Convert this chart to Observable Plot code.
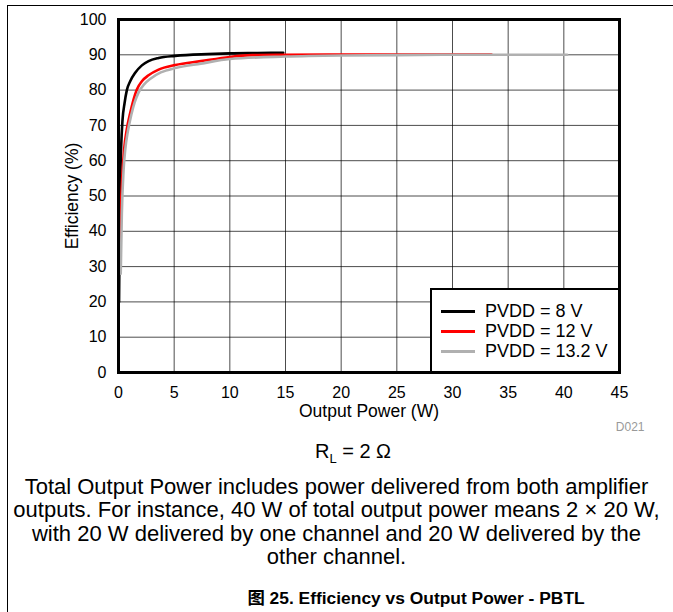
<!DOCTYPE html>
<html>
<head>
<meta charset="utf-8">
<script src="https://cdn.jsdelivr.net/npm/d3@7"></script>
<script src="https://cdn.jsdelivr.net/npm/@observablehq/plot@0.6"></script>
<style>
  body { margin: 0; background: #fff; font-family: "Liberation Sans", Arial, "Noto Sans CJK SC", sans-serif; color: #000; }
  #wrap { position: relative; width: 673px; height: 612px; overflow: hidden; background: #fff; }
  #frameTop { position: absolute; left: 7px; top: 5px; width: 670px; height: 0; border-top: 1px solid #000; }
  #frameLeft { position: absolute; left: 7px; top: 5px; width: 0; height: 620px; border-left: 1px solid #000; }
  #chart { position: absolute; left: 0; top: 0; }
  #legend { position: absolute; left: 430px; top: 288px; width: 190px; height: 85px; box-sizing: border-box;
            border: 2px solid #000; background: #fff; padding-top: 12px; }
  .row { display: flex; align-items: center; height: 19.7px; font-size: 18px; white-space: nowrap; }
  .swatch { width: 34px; height: 0; border-top: 3px solid #000; margin-left: 9px; margin-right: 10px; }
  .block { position: absolute; text-align: center; white-space: nowrap; }
  #rl { top: 439px; left: 253px; width: 200px; font-size: 20px; line-height: 24px; }
  #rl sub { font-size: 13px; vertical-align: -5px; line-height: 0; }
  #note { top: 475px; left: 0; width: 673px; font-size: 22px; line-height: 23.3px; }
  #caption { top: 587px; left: 216px; width: 400px; font-size: 17.4px; line-height: 22px; font-weight: bold; }
</style>
</head>
<body>
<div id="wrap">
  <div id="frameTop"></div>
  <div id="frameLeft"></div>
  <div id="chart"></div>
  <div id="legend"></div>
  <div id="rl" class="block">R<sub>L</sub> = 2 Ω</div>
  <div id="note" class="block">Total Output Power includes power delivered from both amplifier<br>outputs. For instance, 40 W of total output power means 2 × 20 W,<br>with 20 W delivered by one channel and 20 W delivered by the<br>other channel.</div>
  <div id="caption" class="block">图 25. Efficiency vs Output Power - PBTL</div>
</div>
<script>
// ---- data ----
const seriesNames = ["PVDD = 8 V", "PVDD = 12 V", "PVDD = 13.2 V"];
const seriesColors = ["#000000", "#ff0000", "#b0b0b0"];

const pvdd8Power = [0.05, 0.1, 0.15, 0.24, 0.36, 0.54, 0.75, 1.05, 1.5, 2.1, 2.7, 3.6, 5.1, 8, 10, 12.5, 14.8];
const pvdd8Eff   = [20, 40, 53, 64, 71.5, 76.2, 80, 82.5, 84.9, 87, 88.2, 89.1, 89.7, 90.2, 90.4, 90.5, 90.6];

const pvdd12Power = [0.12, 0.2, 0.35, 0.5, 0.75, 1.05, 1.35, 1.65, 2.1, 2.7, 3.6, 5.1, 7.4, 10, 12, 15, 20, 25, 30, 33.5];
const pvdd12Eff   = [35, 45, 56, 63, 69, 73.5, 77.3, 80.2, 82.5, 84.2, 85.8, 87.1, 88.2, 89.4, 89.9, 90, 90.1, 90.1, 90.1, 90.1];

const pvdd132Power = [0.2, 0.3, 0.45, 0.6, 0.85, 1.15, 1.45, 1.8, 2.3, 2.9, 3.8, 5.2, 7.4, 10, 15, 20, 25, 30, 35, 40.3];
const pvdd132Eff   = [28, 45, 57, 63, 68.5, 73, 76.5, 79.3, 81.6, 83.3, 85, 86.3, 87.5, 88.8, 89.5, 89.8, 89.9, 90, 90, 90];

const xTicks = [0, 5, 10, 15, 20, 25, 30, 35, 40, 45];
const yTicks = [0, 10, 20, 30, 40, 50, 60, 70, 80, 90, 100];
const xLabel = "Output Power (W)";
const yLabel = "Efficiency (%)";
const figId = "D021";

// ---- build table ----
const seriesData = [[pvdd8Power, pvdd8Eff], [pvdd12Power, pvdd12Eff], [pvdd132Power, pvdd132Eff]];
const rows = [];
seriesData.forEach(([xs, ys], i) => xs.forEach((x, j) => rows.push({series: seriesNames[i], x, y: ys[j]})));

const font = "Liberation Sans, Arial, sans-serif";
const chart = Plot.plot({
  width: 673,
  height: 440,
  marginLeft: 118,
  marginRight: 54,
  marginTop: 19,
  marginBottom: 68,
  style: {fontFamily: font, fontSize: "16px", color: "#000", background: "transparent", overflow: "visible"},
  x: {domain: [0, 45]},
  y: {domain: [0, 100]},
  color: {domain: seriesNames, range: seriesColors},
  marks: [
    Plot.gridX(xTicks, {stroke: "#000", strokeOpacity: 0.7, strokeWidth: 1}),
    Plot.gridY(yTicks, {stroke: "#000", strokeOpacity: 0.7, strokeWidth: 1}),
    Plot.line(rows, {x: "x", y: "y", z: "series", stroke: "series", strokeWidth: 2.6, curve: "monotone-x"}),
    Plot.frame({stroke: "#000", strokeWidth: 3}),
    Plot.axisX(xTicks, {tickSize: 0, tickPadding: 14, label: null, fontSize: 16}),
    Plot.axisY(yTicks, {tickSize: 0, tickPadding: 12, label: null, fontSize: 16}),
    Plot.text([xLabel], {frameAnchor: "bottom", textAnchor: "middle", lineAnchor: "middle", dy: 39, text: d => d, fontSize: 17.5}),
    Plot.text([yLabel], {frameAnchor: "left", textAnchor: "middle", lineAnchor: "middle", rotate: -90, dx: -46, text: d => d, fontSize: 17.5}),
    Plot.text([figId], {frameAnchor: "bottom-right", textAnchor: "end", lineAnchor: "middle", dx: 25, dy: 55, text: d => d, fontSize: 12, fill: "#999"})
  ]
});
document.getElementById("chart").appendChild(chart);

// ---- legend ----
const legend = document.getElementById("legend");
seriesNames.forEach((name, i) => {
  const r = document.createElement("div");
  r.className = "row";
  const sw = document.createElement("span");
  sw.className = "swatch";
  sw.style.borderTopColor = seriesColors[i];
  const t = document.createElement("span");
  t.textContent = name;
  r.appendChild(sw);
  r.appendChild(t);
  legend.appendChild(r);
});
</script>
</body>
</html>
